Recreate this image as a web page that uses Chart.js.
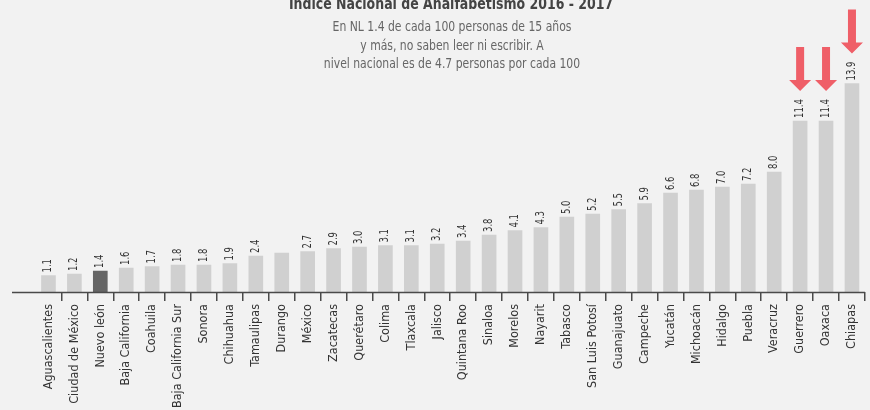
<!DOCTYPE html>
<html>
<head>
<meta charset="utf-8">
<script src="https://cdn.jsdelivr.net/npm/chart.js@4"></script>
<style>
  html, body { margin: 0; padding: 0; background: #f2f2f2; }
  #wrap { width: 870px; height: 410px; position: relative; }
</style>
</head>
<body>
<div id="wrap"><canvas id="c" width="870" height="410"></canvas></div>
<script>
const titleText = "Índice Nacional de Analfabetismo 2016 - 2017";
const subtitleLines = [
  "En NL 1.4 de cada 100 personas de 15 años",
  "y más, no saben leer ni escribir. A",
  "nivel nacional es de 4.7 personas por cada 100"
];
const categories = [
  "Aguascalientes", "Ciudad de México", "Nuevo león", "Baja California", "Coahuila",
  "Baja California Sur", "Sonora", "Chihuahua", "Tamaulipas", "Durango",
  "México", "Zacatecas", "Querétaro", "Colima", "Tlaxcala", "Jalisco",
  "Quintana Roo", "Sinaloa", "Morelos", "Nayarit", "Tabasco", "San Luis Potosí",
  "Guanajuato", "Campeche", "Yucatán", "Michoacán", "Hidalgo", "Puebla",
  "Veracruz", "Guerrero", "Oaxaca", "Chiapas"
];
const values = [
  1.1, 1.2, 1.4, 1.6, 1.7, 1.8, 1.8, 1.9, 2.4, 2.6,
  2.7, 2.9, 3.0, 3.1, 3.1, 3.2, 3.4, 3.8, 4.1, 4.3,
  5.0, 5.2, 5.5, 5.9, 6.6, 6.8, 7.0, 7.2, 8.0, 11.4,
  11.4, 13.9
];
const valueLabels = [
  "1.1", "1.2", "1.4", "1.6", "1.7", "1.8", "1.8", "1.9", "2.4", "",
  "2.7", "2.9", "3.0", "3.1", "3.1", "3.2", "3.4", "3.8", "4.1", "4.3",
  "5.0", "5.2", "5.5", "5.9", "6.6", "6.8", "7.0", "7.2", "8.0", "11.4",
  "11.4", "13.9"
];
const highlightedState = "Nuevo león";
const arrowStates = ["Guerrero", "Oaxaca", "Chiapas"];

const FONT = "'Liberation Sans Narrow', 'DejaVu Sans Condensed', 'Liberation Sans', sans-serif";

function condensedText(ctx, text, x, y, sx) {
  ctx.save();
  ctx.translate(x, y);
  ctx.scale(sx, 1);
  ctx.fillText(text, 0, 0);
  ctx.restore();
}

const decorPlugin = {
  id: 'decor',
  afterDraw(chart) {
    const ctx = chart.ctx;
    const area = chart.chartArea;
    const meta = chart.getDatasetMeta(0);
    ctx.save();
    // baseline axis
    ctx.strokeStyle = '#4a4a4a';
    ctx.lineWidth = 1.5;
    ctx.beginPath();
    ctx.moveTo(12, area.bottom + 0.5);
    ctx.lineTo(area.right, area.bottom + 0.5);
    ctx.stroke();
    // title
    ctx.fillStyle = '#444';
    ctx.textAlign = 'center';
    ctx.textBaseline = 'alphabetic';
    ctx.font = "bold 16px " + FONT;
    condensedText(ctx, titleText, 451, 9, 0.87);
    ctx.fillStyle = '#666';
    ctx.font = "14px " + FONT;
    subtitleLines.forEach((l, i) => condensedText(ctx, l, 452, 31 + i * 18.5, 0.86));
    // value labels
    ctx.fillStyle = '#333';
    ctx.font = "11.5px " + FONT;
    meta.data.forEach((bar, i) => {
      const t = valueLabels[i];
      if (!t) return;
      ctx.save();
      ctx.translate(bar.x, bar.y - 3);
      ctx.rotate(-Math.PI / 2);
      ctx.scale(0.82, 1);
      ctx.textAlign = 'left';
      ctx.textBaseline = 'middle';
      ctx.fillText(t, 0, 0);
      ctx.restore();
    });
    // arrows
    ctx.fillStyle = '#ef5f68';
    arrowStates.forEach(name => {
      const i = categories.indexOf(name);
      const bar = meta.data[i];
      const tip = bar.y - 30;
      const top = tip - 44;
      const headH = 11, headW = 11, shaftW = 4;
      ctx.beginPath();
      ctx.moveTo(bar.x - shaftW, top);
      ctx.lineTo(bar.x + shaftW, top);
      ctx.lineTo(bar.x + shaftW, tip - headH);
      ctx.lineTo(bar.x + headW, tip - headH);
      ctx.lineTo(bar.x, tip);
      ctx.lineTo(bar.x - headW, tip - headH);
      ctx.lineTo(bar.x - shaftW, tip - headH);
      ctx.closePath();
      ctx.fill();
    });
    ctx.restore();
  }
};

new Chart(document.getElementById('c'), {
  type: 'bar',
  data: {
    labels: categories,
    datasets: [{
      data: values,
      backgroundColor: categories.map(c => c === highlightedState ? '#656565' : '#d0d0d0'),
      barThickness: 14,
      borderWidth: 0
    }]
  },
  options: {
    responsive: false,
    animation: false,
    devicePixelRatio: 1,
    layout: { padding: { top: 82, left: 35.5, right: 2.5, bottom: 0 } },
    plugins: { legend: { display: false }, tooltip: { enabled: false }, title: { display: false } },
    scales: {
      x: {
        offset: true,
        border: { display: false },
        grid: {
          offset: true,
          drawOnChartArea: false,
          drawTicks: true,
          tickLength: 9,
          lineWidth: 1.5,
          color: ctx => ctx.index === 0 ? 'rgba(0,0,0,0)' : '#4a4a4a'
        },
        ticks: {
          autoSkip: false,
          minRotation: 90,
          maxRotation: 90,
          padding: 3,
          color: '#333',
          font: { family: FONT, size: 12.5 }
        },
        afterFit(scale) { scale.height = 118; }
      },
      y: {
        display: false,
        min: 0,
        max: 14
      }
    }
  },
  plugins: [decorPlugin]
});
</script>
</body>
</html>
